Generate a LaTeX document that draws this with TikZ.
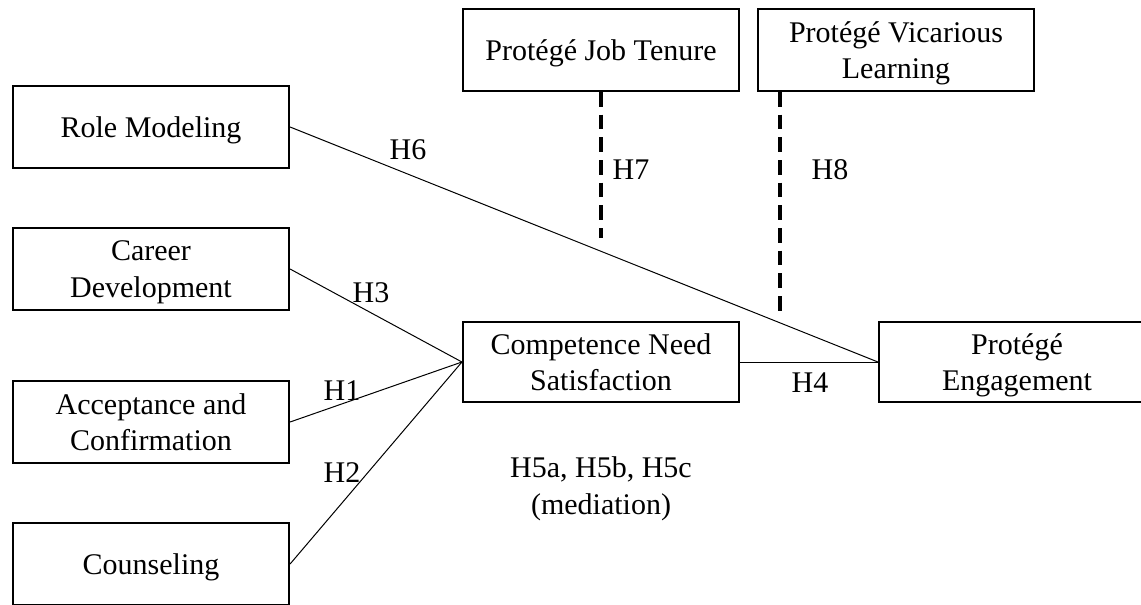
\documentclass[tikz,border=0pt]{standalone}
\usepackage{fontspec}
\setmainfont{Liberation Serif}
\usetikzlibrary{positioning}
\tikzset{
  construct/.style = {draw, rectangle, line width=1.6pt, align=center,
                      font=\fontsize{22.5}{27.5}\selectfont, inner sep=2pt,
                      text depth=0pt,
                      minimum width=207pt, minimum height=61.5pt},
  hyplabel/.style  = {align=center, inner sep=0pt,
                      font=\fontsize{22.5}{27.5}\selectfont},
  hpath/.style     = {-, line width=0.75pt},
  moderate/.style  = {-, line width=2.4pt, dash pattern=on 11pt off 6pt},
}

\begin{document}
\begin{tikzpicture}[x=0.75pt, y=-0.75pt]
  \useasboundingbox (0,0) rectangle (1141,604);
  % predictors
  \node[construct] (rm) at (151,127) {Role Modeling};
  \node[construct] (cd) at (151,269) {Career\\Development};
  \node[construct] (ac) at (151,422) {Acceptance and\\Confirmation};
  \node[construct] (co) at (151,564) {Counseling};
  % mediator, outcome, moderators
  \node[construct, minimum height=60pt] (cns) at (601,362) {Competence Need\\Satisfaction};
  \node[construct, minimum height=60pt] (pe)  at (1017,362) {Protégé\\Engagement};
  \node[construct] (pjt) at (601,50) {Protégé Job Tenure};
  \node[construct] (pvl) at (896,50) {Protégé Vicarious\\Learning};
  \coordinate (h7end) at (601,238);
  \coordinate (h8end) at (780,318);
  % paths
  \draw[hpath] (rm.east) -- (pe.west);
  \draw[hpath] (cd.east) -- (cns.west);
  \draw[hpath] (ac.east) -- (cns.west);
  \draw[hpath] (co.east) -- (cns.west);
  \draw[hpath] (cns.east) -- (pe.west);
  \draw[moderate] (pjt.south) -- (h7end);
  \draw[moderate] (pvl.south -| h8end) -- (h8end);
  % labels
  \node[hyplabel] (h6) at (408,150) {H6};
  \node[hyplabel] (h7) at (631,170) {H7};
  \node[hyplabel] (h8) at (830,170) {H8};
  \node[hyplabel] (h3) at (371,293) {H3};
  \node[hyplabel] (h1) at (342,391) {H1};
  \node[hyplabel] (h2) at (342,473) {H2};
  \node[hyplabel] (h4) at (810,383) {H4};
  \node[hyplabel] (h5) at (601,489) {H5a, H5b, H5c\\(mediation)};
\end{tikzpicture}
\end{document}
